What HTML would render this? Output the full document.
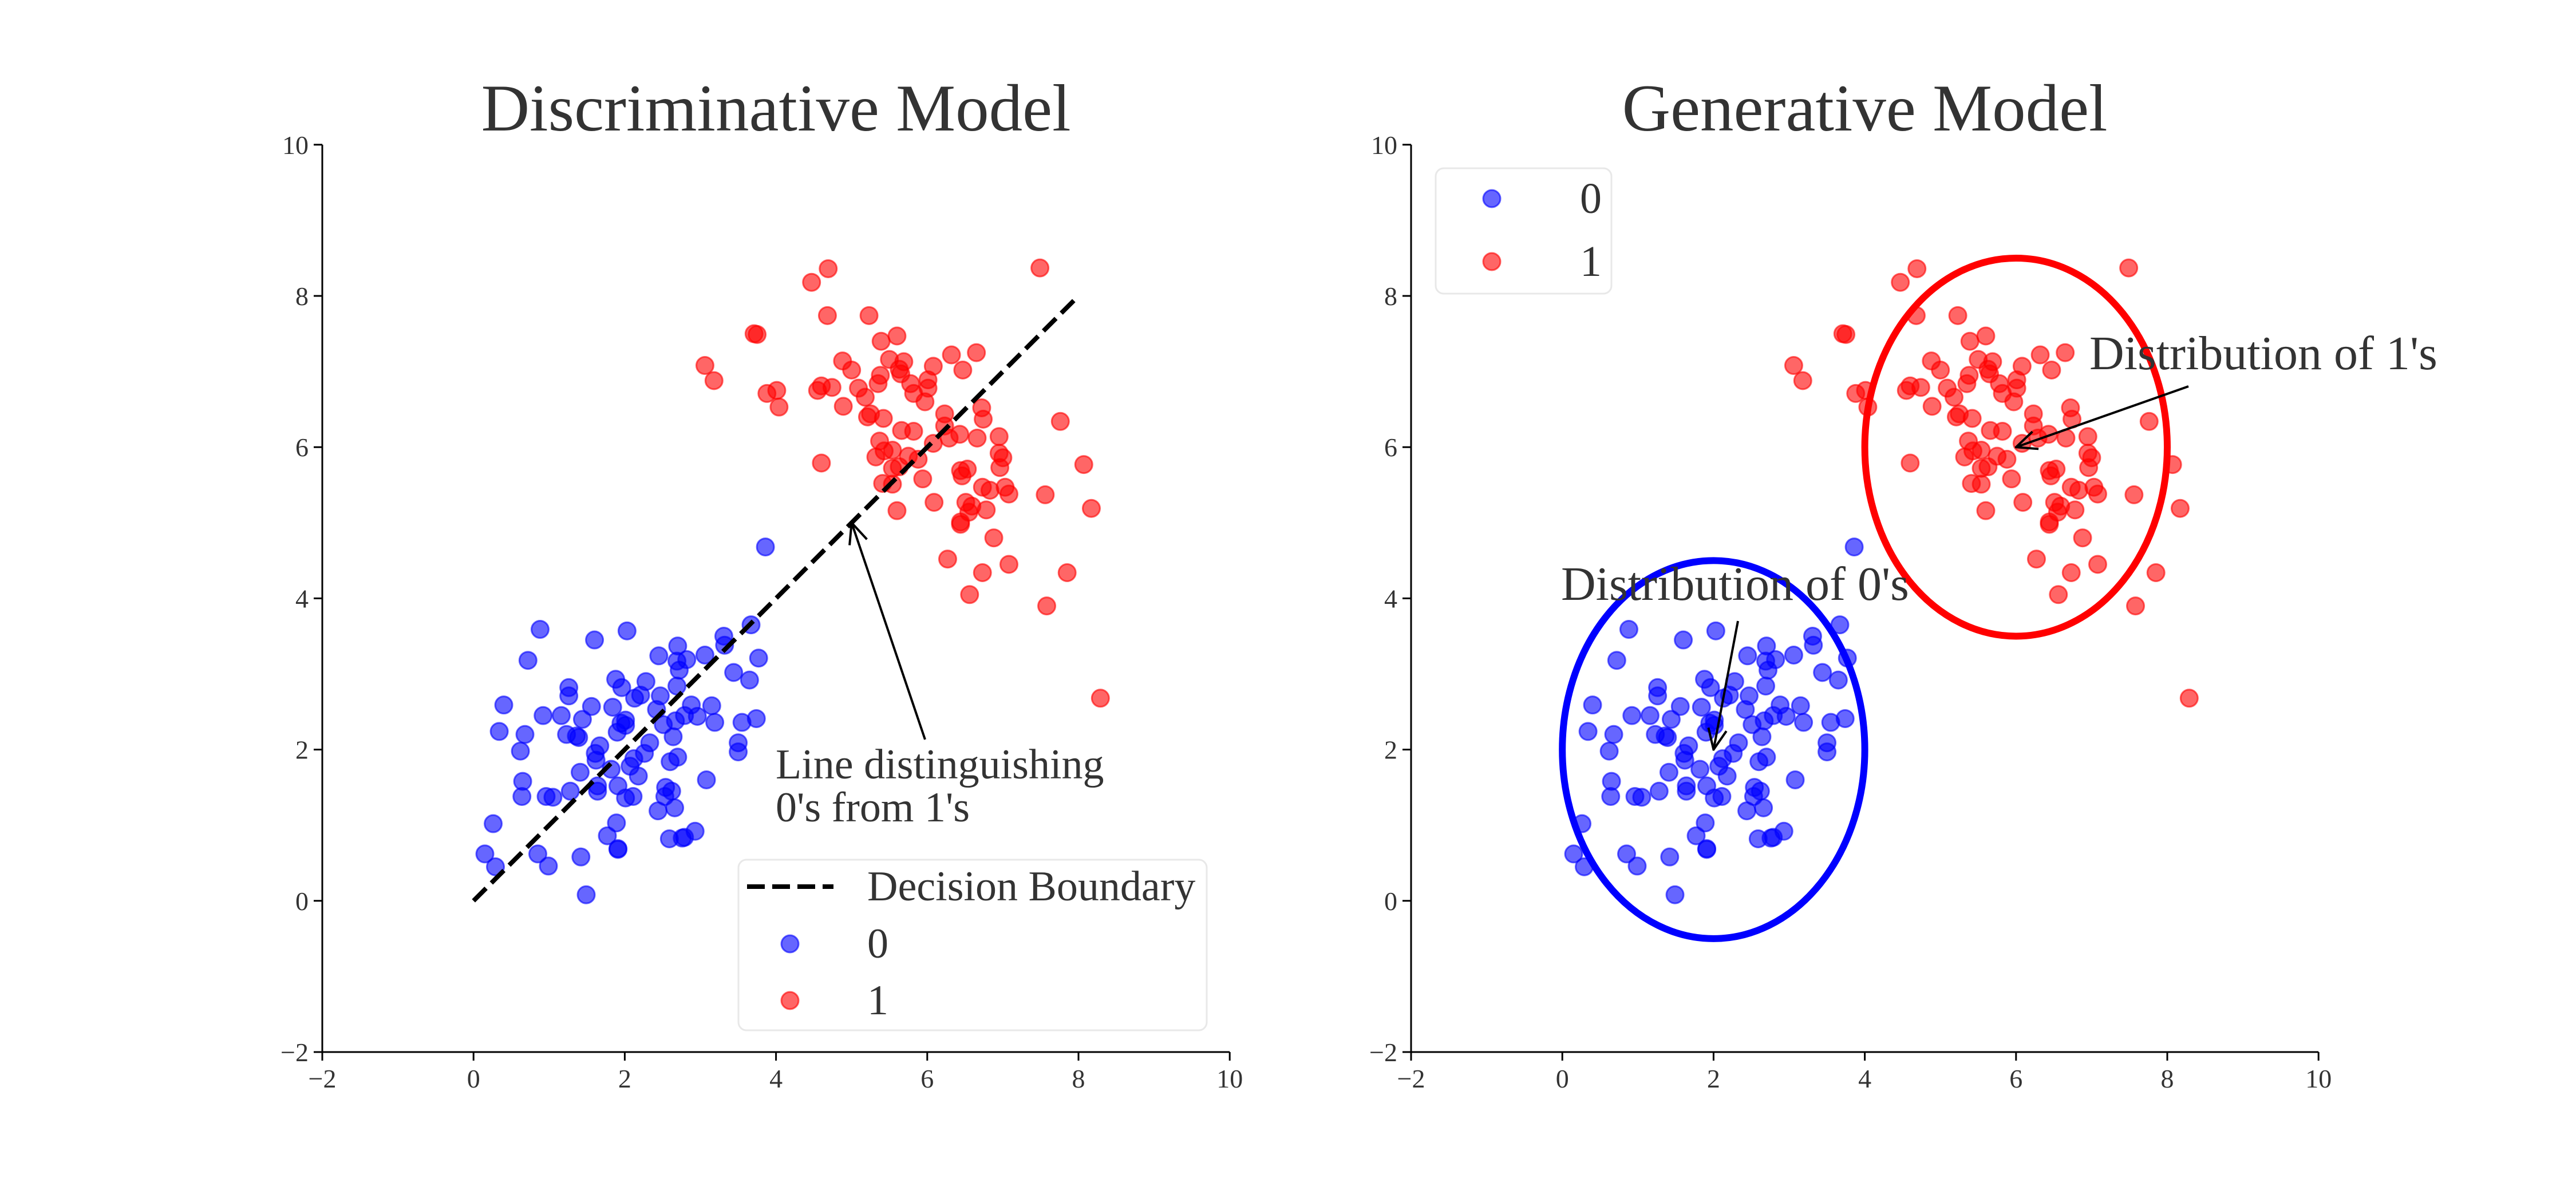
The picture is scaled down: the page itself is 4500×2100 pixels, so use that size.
<!DOCTYPE html>
<html><head><meta charset="utf-8"><style>
html,body{margin:0;padding:0;background:#fff;}
svg{display:block;font-family:"Liberation Serif",serif;}
</style></head><body>
<svg id="fig" width="4500" height="2100" viewBox="0 0 4500 2100" xmlns="http://www.w3.org/2000/svg">
<rect width="4500" height="2100" fill="#fff"/>
</svg>
<script>
const blueX=[3.86,0.88,2.03,1.60,0.72,3.67,3.31,3.32,2.70,2.45,2.69,2.82,2.72,3.06,3.77,3.44,3.65,2.69,1.88,1.96,2.28,1.26,1.26,2.13,2.21,2.47,2.42,0.40,1.56,1.84,2.88,3.15,0.92,1.16,1.44,2.01,1.95,2.01,2.51,2.67,2.79,2.96,3.19,3.55,3.74,0.34,0.68,1.23,1.36,1.39,1.90,2.64,0.62,1.67,1.61,1.62,2.33,2.26,3.50,3.50,2.12,2.60,2.70,2.07,1.82,1.41,2.18,0.65,0.64,0.96,1.05,1.28,1.64,1.64,1.91,2.01,2.11,2.54,2.62,2.53,3.08,2.44,2.66,0.26,1.89,1.77,1.91,1.91,2.59,2.76,2.79,2.93,0.15,0.29,0.85,0.99,1.42,1.49];
const blueY=[4.68,3.59,3.57,3.45,3.18,3.65,3.50,3.38,3.37,3.24,3.17,3.19,3.05,3.25,3.21,3.02,2.92,2.84,2.93,2.82,2.90,2.82,2.71,2.68,2.72,2.71,2.53,2.59,2.57,2.56,2.59,2.58,2.45,2.45,2.40,2.39,2.35,2.32,2.33,2.38,2.45,2.44,2.36,2.36,2.41,2.24,2.20,2.20,2.18,2.16,2.23,2.17,1.98,2.05,1.95,1.86,2.09,1.95,2.09,1.97,1.88,1.84,1.90,1.78,1.74,1.70,1.65,1.58,1.38,1.38,1.37,1.45,1.52,1.45,1.52,1.36,1.38,1.50,1.45,1.38,1.60,1.19,1.23,1.02,1.03,0.86,0.68,0.69,0.82,0.83,0.84,0.92,0.62,0.45,0.62,0.46,0.58,0.08];
const redX=[4.69,4.47,7.49,4.68,5.23,3.71,3.75,5.39,5.60,3.06,3.18,4.88,5.00,5.50,5.69,5.63,5.65,5.38,5.35,5.78,6.08,6.32,6.65,6.47,6.01,6.01,5.82,5.97,3.88,4.01,4.04,4.60,4.74,4.55,5.09,5.18,4.89,5.25,5.21,5.42,6.23,6.23,6.72,6.74,7.76,5.66,5.82,6.08,6.29,6.43,6.66,6.95,5.37,5.32,5.43,5.54,4.60,5.75,5.88,6.95,7.00,6.96,8.07,5.54,5.63,6.44,6.53,6.46,5.94,5.41,5.54,6.73,6.83,7.03,7.08,7.56,5.60,6.09,6.51,6.59,6.55,6.78,6.44,6.44,8.17,6.88,6.27,6.73,7.08,7.85,6.56,7.58,8.29];
const redY=[8.36,8.18,8.37,7.74,7.74,7.50,7.49,7.40,7.47,7.08,6.88,7.14,7.02,7.16,7.13,7.03,6.97,6.95,6.84,6.84,7.07,7.22,7.25,7.02,6.89,6.78,6.71,6.60,6.71,6.75,6.53,6.81,6.79,6.75,6.78,6.66,6.54,6.44,6.40,6.38,6.44,6.28,6.52,6.37,6.34,6.22,6.21,6.05,6.12,6.17,6.12,6.14,6.08,5.87,5.95,5.96,5.79,5.88,5.84,5.92,5.86,5.73,5.77,5.72,5.74,5.69,5.71,5.62,5.58,5.52,5.51,5.47,5.43,5.47,5.38,5.37,5.16,5.27,5.27,5.22,5.14,5.17,5.01,4.98,5.19,4.80,4.52,4.34,4.45,4.34,4.05,3.90,2.68];
const ticks=[-2,0,2,4,6,8,10];
const boundaryX=[0,8];
const boundaryY=[0,8];
const ellipseCenters=[[2,2],[6,6]];
const ellipseRadii=[2,2.5];

const NS="http://www.w3.org/2000/svg";
const svg=document.getElementById('fig');
const U=132.1, Y0=1838;
function mk(tag,attrs,parent){const e=document.createElementNS(NS,tag);for(const k in attrs)e.setAttribute(k,attrs[k]);(parent||svg).appendChild(e);return e;}

function panel(x0,title,kind){
  const sx=v=>x0+(v+2)*U, sy=v=>Y0-(v+2)*U;
  const g=mk('g',{});
  
  
  const t=mk('text',{x:x0+6*U,y:228,'text-anchor':'middle','font-size':117,fill:'#333'},g);
  t.textContent=title;
  
  
  const ax=mk('g',{},g);
  
  
  mk('line',{x1:sx(-2),y1:sy(-2),x2:sx(10),y2:sy(-2),stroke:'#000','stroke-width':3},ax);
  mk('line',{x1:sx(-2),y1:sy(-2),x2:sx(-2),y2:sy(10),stroke:'#000','stroke-width':3},ax);
  ticks.forEach(v=>{
    mk('line',{x1:sx(v),y1:sy(-2),x2:sx(v),y2:sy(-2)+15,stroke:'#000','stroke-width':3},ax);
    const tx=mk('text',{x:sx(v),y:sy(-2)+62,'text-anchor':'middle','font-size':46,fill:'#333'},ax);
    tx.textContent=v<0?'\u2212'+(-v):v;
    
    
    mk('line',{x1:sx(-2),y1:sy(v),x2:sx(-2)-15,y2:sy(v),stroke:'#000','stroke-width':3},ax);
    const ty=mk('text',{x:sx(-2)-24,y:sy(v)+16,'text-anchor':'end','font-size':46,fill:'#333'},ax);
    ty.textContent=v<0?'\u2212'+(-v):v;
    
    
  });
  if(kind==='generative'){
    const cols=['#0000ff','#ff0000'];
    ellipseCenters.forEach((c,i)=>{
      const el=mk('ellipse',{cx:sx(c[0]),cy:sy(c[1]),rx:ellipseRadii[0]*U,ry:ellipseRadii[1]*U,fill:'none',stroke:cols[i],'stroke-width':12},g);
      
      
    });
  }
  const pts=mk('g',{},g);
  
  
  blueX.forEach((x,i)=>{
    const c=mk('circle',{cx:sx(x),cy:sy(blueY[i]),r:15,fill:'rgba(0,0,255,0.6)',stroke:'rgba(0,0,255,0.6)','stroke-width':3},pts);
    
    
  });
  redX.forEach((x,i)=>{
    const c=mk('circle',{cx:sx(x),cy:sy(redY[i]),r:15,fill:'rgba(255,0,0,0.6)',stroke:'rgba(255,0,0,0.6)','stroke-width':3},pts);
    
    
  });
  return {sx,sy,g};
}

mk('defs',{}).innerHTML='<marker id="arr" markerWidth="40" markerHeight="40" refX="38" refY="20" orient="auto" markerUnits="userSpaceOnUse"><path d="M2,4 L38,20 L2,36" fill="none" stroke="#000" stroke-width="4"/></marker>';

const L=panel(563,'Discriminative Model','discriminative');
const bl=mk('line',{x1:L.sx(boundaryX[0]),y1:L.sy(boundaryY[0]),x2:L.sx(boundaryX[1]),y2:L.sy(boundaryY[1]),stroke:'#000','stroke-width':8,'stroke-dasharray':'31 13'},L.g);


const a1=mk('line',{x1:1616,y1:1292,x2:L.sx(5),y2:L.sy(5),stroke:'#000','stroke-width':4,'marker-end':'url(#arr)'},L.g);


const at=mk('text',{x:1355,y:1360,'font-size':74,fill:'#333'},L.g);
at.innerHTML='<tspan x="1355">Line distinguishing</tspan><tspan x="1355" dy="75">0\'s from 1\'s</tspan>';


const lg=mk('g',{},L.g);


mk('rect',{x:1290,y:1502,width:818,height:298,rx:14,fill:'rgba(255,255,255,0.8)',stroke:'#e8e8e8','stroke-width':3},lg);
mk('line',{x1:1305,y1:1549,x2:1456,y2:1549,stroke:'#000','stroke-width':8,'stroke-dasharray':'31 13'},lg);
mk('circle',{cx:1380,cy:1649,r:15,fill:'rgba(0,0,255,0.6)',stroke:'rgba(0,0,255,0.6)','stroke-width':3},lg);
mk('circle',{cx:1380,cy:1748,r:15,fill:'rgba(255,0,0,0.6)',stroke:'rgba(255,0,0,0.6)','stroke-width':3},lg);
[['Decision Boundary',1573],['0',1673],['1',1772]].forEach(([s,y])=>{
  const t=mk('text',{x:1515,y:y,'font-size':74,fill:'#333'},lg);t.textContent=s;
  
  
});

const R=panel(2465,'Generative Model','generative');
const a2=mk('line',{x1:3823,y1:675,x2:R.sx(6),y2:R.sy(6),stroke:'#000','stroke-width':4,'marker-end':'url(#arr)'},R.g);


const t1=mk('text',{x:3650,y:645,'font-size':84,fill:'#333'},R.g);t1.textContent="Distribution of 1's";


const a3=mk('line',{x1:3036,y1:1085,x2:R.sx(2),y2:R.sy(2),stroke:'#000','stroke-width':4,'marker-end':'url(#arr)'},R.g);


const t0=mk('text',{x:2727,y:1048,'font-size':84,fill:'#333'},R.g);t0.textContent="Distribution of 0's";


const rg=mk('g',{},R.g);


mk('rect',{x:2508,y:294,width:307,height:219,rx:14,fill:'rgba(255,255,255,0.8)',stroke:'#e8e8e8','stroke-width':3},rg);
mk('circle',{cx:2606,cy:347,r:15,fill:'rgba(0,0,255,0.6)',stroke:'rgba(0,0,255,0.6)','stroke-width':3},rg);
mk('circle',{cx:2606,cy:457,r:15,fill:'rgba(255,0,0,0.6)',stroke:'rgba(255,0,0,0.6)','stroke-width':3},rg);
[['0',372],['1',482]].forEach(([s,y])=>{
  const t=mk('text',{x:2798,y:y,'text-anchor':'end','font-size':76,fill:'#333'},rg);t.textContent=s;
  
  
});
</script>
</body></html>
